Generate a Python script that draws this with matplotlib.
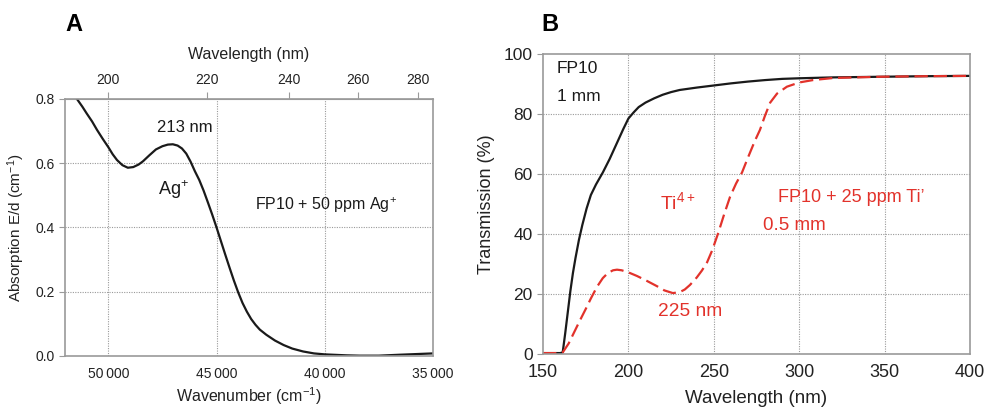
import numpy as np
import matplotlib
matplotlib.use("Agg")
import matplotlib.pyplot as plt

plt.rcParams['font.family'] = ['Liberation Sans', 'DejaVu Sans']
plt.rcParams['mathtext.fontset'] = 'custom'
plt.rcParams['mathtext.rm'] = 'Liberation Sans'
plt.rcParams['mathtext.it'] = 'Liberation Sans:italic'
plt.rcParams['mathtext.bf'] = 'Liberation Sans:bold'

# Panel A: absorption vs wavenumber
wavenumber_a = [51450, 51200, 51000, 50750, 50525, 50250, 50000, 49800, 49600,
                49350, 49100, 48850, 48600, 48400, 48100, 47800, 47500, 47250,
                47020, 46800, 46600, 46400, 46200, 46000, 45800, 45600, 45400,
                45200, 45000, 44800, 44600, 44400, 44200, 44000, 43800, 43600,
                43400, 43200, 43000, 42700, 42300, 41900, 41500, 41000, 40500,
                40000, 39000, 38400, 37500, 36500, 35000]
absorption_a = [0.800, 0.776, 0.755, 0.730, 0.704, 0.675, 0.650, 0.628, 0.610,
                0.594, 0.586, 0.588, 0.596, 0.606, 0.625, 0.643, 0.653, 0.658,
                0.659, 0.655, 0.646, 0.630, 0.605, 0.575, 0.548, 0.515, 0.478,
                0.440, 0.400, 0.358, 0.316, 0.275, 0.235, 0.198, 0.165, 0.138,
                0.115, 0.097, 0.082, 0.066, 0.048, 0.034, 0.023, 0.014, 0.008,
                0.005, 0.002, 0.001, 0.001, 0.004, 0.008]
yticks_a = [0.0, 0.2, 0.4, 0.6, 0.8]
xticks_a = [50000, 45000, 40000, 35000]
xticklabels_a = ["50\u2009000", "45\u2009000", "40\u2009000", "35\u2009000"]
top_ticks_nm = [200, 220, 240, 260, 280]

# Panel B: transmission vs wavelength
wl_fp10 = [150, 155, 160, 161.5, 163, 164.5, 166, 167.5, 169, 171, 173, 175.5,
           178, 181, 185, 189, 193, 197, 200, 203, 206, 210, 215, 220, 225,
           230, 240, 250, 260, 270, 280, 290, 300, 320, 347, 375, 400]
t_fp10 = [0.3, 0.3, 0.3, 0.5, 7, 14, 21, 27, 32, 38, 43, 48.5,
          53, 56.5, 60.5, 65, 70, 75, 78.5, 80.5, 82.3, 83.8, 85.2, 86.4, 87.3,
          88.0, 88.8, 89.5, 90.2, 90.8, 91.3, 91.7, 91.9, 92.2, 92.4, 92.6, 92.7]
wl_ti = [150, 155, 160, 161.5, 165, 168, 171.7, 175, 178, 181.6, 185, 188, 191,
         193.3, 196, 200, 205, 210, 216.7, 221, 226, 230, 233, 236, 240, 243,
         246, 249, 252.5, 256, 259.5, 263, 266.5, 270, 274, 277, 280, 283, 287,
         292.8, 300, 308, 320, 347, 375, 400]
t_ti = [0.3, 0.3, 0.3, 0.5, 3.5, 7, 11.3, 15, 18.5, 22.4, 25.3, 27, 27.9,
        28.1, 27.9, 27.2, 26, 24.6, 22.6, 21.2, 20.3, 20.6, 21.5, 23, 25.5, 27.8,
        30.5, 34.5, 40.2, 46.5, 52.4, 56.8, 60.5, 65.5, 71, 74.7, 79.5, 83.8, 86.8,
        89.1, 90.5, 91.3, 92.0, 92.4, 92.6, 92.7]
xticks_b = [150, 200, 250, 300, 350, 400]
yticks_b = [0, 20, 40, 60, 80, 100]

red = '#E2322B'
spine_c = '#9a9a9a'
txt_c = '#222222'
grid_kw = dict(color='#9a9a9a', linestyle=(0, (1, 1.2)), linewidth=0.8)

fig = plt.figure(figsize=(9.87, 4.08), dpi=100)

# ---------- Panel A ----------
axA = fig.add_axes([0.0659, 0.1275, 0.3728, 0.6299])
axA.plot(wavenumber_a, absorption_a, color='#1a1a1a', lw=1.6)
axA.set_xlim(52000, 35000)
axA.set_ylim(0, 0.8)
axA.set_xticks(xticks_a)
axA.set_xticklabels(xticklabels_a)
axA.set_yticks(yticks_a)
axA.set_yticklabels([f"{v:.1f}" for v in yticks_a])
axA.tick_params(axis='x', length=0, pad=8, labelsize=10, labelcolor=txt_c)
axA.tick_params(axis='y', length=4, color=spine_c, labelsize=10, labelcolor=txt_c)
for y in yticks_a[1:-1]:
    axA.axhline(y, zorder=0, **grid_kw)
for x in xticks_a[:-1]:
    axA.axvline(x, zorder=0, **grid_kw)
for s in axA.spines.values():
    s.set_color(spine_c)
    s.set_linewidth(1.2)
axA.set_xlabel(r"Wavenumber (cm$\mathregular{^{-1}}$)", fontsize=11.5, labelpad=3,
               color=txt_c)
axA.set_ylabel(r"Absorption E/d (cm$\mathregular{^{-1}}$)", fontsize=11, labelpad=6,
               color=txt_c)

secA = axA.secondary_xaxis('top', functions=(lambda x: 1e7 / np.asarray(x, float),
                                             lambda x: 1e7 / np.asarray(x, float)))
secA.set_xticks(top_ticks_nm)
secA.tick_params(length=5, color=spine_c, labelsize=10, labelcolor=txt_c)
secA.spines['top'].set_color(spine_c)
secA.set_xlabel("Wavelength (nm)", fontsize=11.5, labelpad=10, color=txt_c)

axA.text(47760, 0.71, "213 nm", fontsize=12, va='center', ha='left', color='#1a1a1a')
axA.text(47715, 0.517, r"Ag$\mathregular{^{+}}$", fontsize=13, va='center', ha='left',
         color='#1a1a1a')
axA.text(43244, 0.47, r"FP10 + 50 ppm Ag$\mathregular{^{+}}$", fontsize=11.5,
         va='center', ha='left', color='#1a1a1a')
fig.text(0.066, 0.94, "A", fontsize=17, fontweight='bold', ha='left', va='center')

# ---------- Panel B ----------
axB = fig.add_axes([0.5502, 0.1324, 0.4326, 0.7353])
axB.plot(wl_fp10, t_fp10, color='#1a1a1a', lw=1.6)
axB.plot(wl_ti, t_ti, color=red, lw=1.6, dashes=(6, 2.6))
axB.set_xlim(150, 400)
axB.set_ylim(0, 100)
axB.set_xticks(xticks_b)
axB.set_yticks(yticks_b)
axB.tick_params(axis='x', length=0, pad=7, labelsize=13, labelcolor=txt_c)
axB.tick_params(axis='y', length=4, color=spine_c, labelsize=12.5, labelcolor=txt_c)
for y in yticks_b[1:-1]:
    axB.axhline(y, zorder=0, **grid_kw)
for x in xticks_b[1:-1]:
    axB.axvline(x, zorder=0, **grid_kw)
for s in axB.spines.values():
    s.set_color(spine_c)
    s.set_linewidth(1.2)
axB.set_xlabel("Wavelength (nm)", fontsize=13.5, labelpad=7, color=txt_c)
axB.set_ylabel("Transmission (%)", fontsize=13, labelpad=6, color=txt_c)

axB.text(158.2, 95.3, "FP10", fontsize=12.5, va='center', ha='left', color='#1a1a1a')
axB.text(158.2, 85.7, "1 mm", fontsize=12.5, va='center', ha='left', color='#1a1a1a')
axB.text(218.5, 50.7, r"Ti$\mathregular{^{4+}}$", fontsize=14, va='center', ha='left',
         color=red)
axB.text(287.6, 52, "FP10 + 25 ppm Ti\u2019", fontsize=13, va='center', ha='left', color=red)
axB.text(278.8, 42.7, "0.5 mm", fontsize=13.5, va='center', ha='left', color=red)
axB.text(217.3, 14.3, "225 nm", fontsize=13.8, va='center', ha='left', color=red)
fig.text(0.548, 0.94, "B", fontsize=17, fontweight='bold', ha='left', va='center')

fig.savefig("out.png", dpi=100)
